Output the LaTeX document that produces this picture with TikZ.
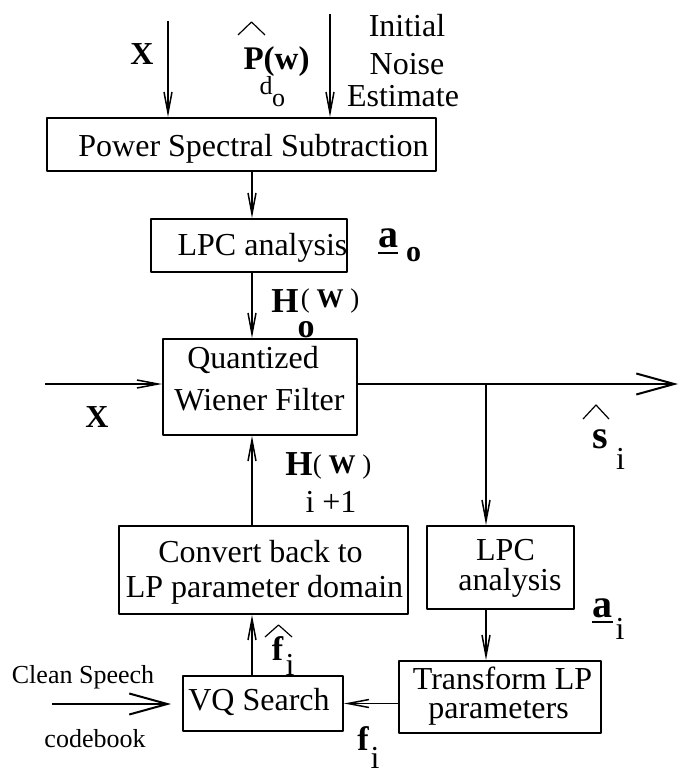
\documentclass[tikz,border=0pt]{standalone}
\usepackage{fontspec}
\setmainfont{Liberation Serif}
\usetikzlibrary{arrows.meta}
\begin{document}
\begin{tikzpicture}[line join=round, x=0.5pt, y=-0.5pt,
	>={Straight Barb[length=10.5pt,width=4pt]},
	blk/.style={draw, line width=1pt, inner sep=0pt},
	txt/.style={inner sep=0pt, anchor=base, font=\fontsize{16}{18}\selectfont},
	bf/.style={inner sep=0pt, anchor=base, font=\fontsize{#1}{#1}\selectfont\bfseries},
	rm/.style={inner sep=0pt, anchor=base, font=\fontsize{#1}{#1}\selectfont},
	conn/.style={->, line width=0.75pt},
	big/.style={-{Straight Barb[length=19pt,width=10.5pt]}, line width=1pt}]
	\useasboundingbox (0,0) rectangle (685,774);
	% boxes
	\node[blk, minimum width=194.5pt, minimum height=26.5pt] (pss) at (241.5,144.5) {};
	\node[blk, minimum width=98pt, minimum height=26.5pt] (lpca) at (249,245.5) {};
	\node[blk, minimum width=97pt, minimum height=48pt] (qwf) at (260,387) {};
	\node[blk, minimum width=144.5pt, minimum height=44pt] (conv) at (263.5,570) {};
	\node[blk, minimum width=80pt, minimum height=27.5pt] (vq) at (263,703.5) {};
	\node[blk, minimum width=73.5pt, minimum height=41.5pt] (lpcb) at (500.5,567.5) {};
	\node[blk, minimum width=101pt, minimum height=36pt] (tlp) at (500,697) {};
	% box texts
	\node[txt] (psst) at (253.5,157) {Power Spectral Subtraction};
	\node[txt] (lpcat) at (262.5,256) {LPC analysis};
	\node[txt] (qwf1) at (253,368) {Quantized};
	\node[txt] (qwf2) at (259.5,410) {Wiener Filter};
	\node[txt] (conv1) at (260.5,562) {Convert back to};
	\node[txt] (conv2) at (264.5,597) {LP parameter domain};
	\node[txt] (vqt) at (259,710) {VQ Search};
	\node[txt] (lpcb1) at (505.5,560) {LPC};
	\node[txt] (lpcb2) at (510,590) {analysis};
	\node[txt] (tlp1) at (502.5,689) {Transform LP};
	\node[txt] (tlp2) at (498.5,718) {parameters};
	% free ends
	\coordinate (xtop) at (168,21);
	\coordinate (ntop) at (330,14);
	\coordinate (spine) at (252,0);
	\coordinate (in) at (45,384);
	\coordinate (out) at (678,384);
	\coordinate (br) at (486,384);
	\coordinate (cs) at (52,704);
	% connectors
	\draw[conn] (xtop) -- (xtop |- pss.north);
	\draw[conn] (ntop) -- (ntop |- pss.north);
	\draw[conn] (spine |- pss.south) -- (spine |- lpca.north);
	\draw[conn] (spine |- lpca.south) -- (spine |- qwf.north);
	\draw[conn] (spine |- conv.north) -- (spine |- qwf.south);
	\draw[conn] (spine |- vq.north) -- (spine |- conv.south);
	\draw[conn] (in) -- (in -| qwf.west);
	\draw[big] (in -| qwf.east) -- (out);
	\draw[conn] (br) -- (br |- lpcb.north);
	\draw[conn] (br |- lpcb.south) -- (br |- tlp.north);
	\draw[conn] (tlp.west |- vq.east) -- (vq.east);
	\draw[big, shorten >=5.5pt] (cs) -- (cs -| vq.west);
	% labels
	\node[bf=16] (xtoplbl) at (142,65) {X};
	\node[bf=16.5] (pw) at (276.5,70) {P(w)};
	\draw[line width=0.6pt] (238,35) -- (251.5,22) -- (265,35);
	\node[rm=13] (pwd) at (266,95) {d};
	\node[rm=13] (pwo) at (278.5,107) {o};
	\node[txt] (ini1) at (407,37) {Initial};
	\node[txt] (ini2) at (407,75) {Noise};
	\node[txt] (ini3) at (403,107) {Estimate};
	\node[bf=20] (ao) at (388,248) {a};
	\draw[line width=1pt] (378,253) -- (398,253);
	\node[bf=15] (aoo) at (413.5,262) {o};
	\node[bf=17.5] (ho) at (285,313) {H};
	\node[rm=13.5] (how) at (330,307) {( \textbf{W} )};
	\node[bf=17] (hoo) at (306,337) {o};
	\node[bf=16] (xin) at (97,427) {X};
	\node[bf=20] (shat) at (600.5,448) {s};
	\draw[line width=0.6pt] (583,419) -- (596,405) -- (609,419);
	\node[rm=16] (si) at (620.5,469) {i};
	\node[bf=17.5] (hi) at (299,475) {H};
	\node[rm=13.5] (hiw) at (342,473) {( \textbf{W} )};
	\node[rm=16] (hii) at (331,512) {i +1};
	\node[bf=20] (ai) at (602.5,617) {a};
	\draw[line width=1pt] (592,622) -- (613,622);
	\node[rm=16] (aii) at (620,639) {i};
	\node[bf=17] (fh) at (277.5,660) {f};
	\draw[line width=0.6pt] (265,637) -- (278.5,625) -- (292,637);
	\node[rm=16] (fhi) at (290,675) {i};
	\node[rm=13] (cs1) at (83,683) {Clean Speech};
	\node[rm=13] (cs2) at (95,747) {codebook};
	\node[bf=17] (fi) at (363,750) {f};
	\node[rm=16] (fii) at (375,768) {i};
\end{tikzpicture}
\end{document}
